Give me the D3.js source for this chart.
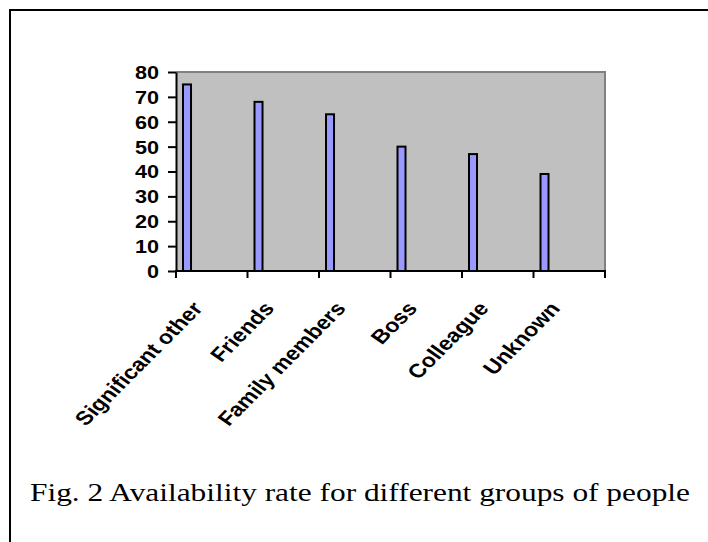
<!DOCTYPE html>
<html>
<head>
<meta charset="utf-8">
<script src="https://cdn.jsdelivr.net/npm/d3@7"></script>
<style>
  html, body { margin: 0; padding: 0; background: #fff; }
  svg { display: block; }
</style>
</head>
<body>
<svg id="chart" width="708" height="542"></svg>
<script>
const categories = ["Significant other", "Friends", "Family members", "Boss", "Colleague", "Unknown"];
const values = [75, 68, 63, 50, 47, 39];
const yTicks = [0, 10, 20, 30, 40, 50, 60, 70, 80];
const caption = "Fig. 2 Availability rate for different groups of people";

const svg = d3.select("#chart");
const SX = 1.2;   // horizontal stretch of the original picture (axis text)
const SXC = 1.255; // caption stretch

// outer frame
svg.append("rect")
  .attr("x", 10).attr("y", 10)
  .attr("width", 800).attr("height", 600)
  .attr("fill", "none").attr("stroke", "#000").attr("stroke-width", 2);

const plot = { left: 176, right: 605, top: 72, bottom: 271 };

const x = d3.scaleBand().domain(categories)
  .range([plot.left, plot.right]).paddingInner(0).paddingOuter(0);
const y = d3.scaleLinear().domain([0, 80]).range([plot.bottom, plot.top]);

// plot background
svg.append("rect")
  .attr("x", plot.left).attr("y", plot.top)
  .attr("width", plot.right - plot.left).attr("height", plot.bottom - plot.top)
  .attr("fill", "#c0c0c0");
// grey top/right border
svg.append("path")
  .attr("d", `M${plot.left},${plot.top}H${plot.right}V${plot.bottom}`)
  .attr("fill", "none").attr("stroke", "#808080").attr("stroke-width", 2);

// bars
const bw = x.bandwidth();
svg.append("g").selectAll("rect").data(values).join("rect")
  .attr("x", (d, i) => x(categories[i]) + bw * 0.098)
  .attr("width", bw * 0.112)
  .attr("y", d => y(d))
  .attr("height", d => y(0) - y(d))
  .attr("fill", "#9999ff")
  .attr("stroke", "#000")
  .attr("stroke-width", 2);

// y axis
const yAxis = svg.append("g")
  .attr("transform", `translate(${plot.left},0)`)
  .call(d3.axisLeft(y).tickValues(yTicks).tickSize(8).tickSizeOuter(0));
yAxis.select(".domain").attr("stroke", "#000").attr("stroke-width", 2);
yAxis.selectAll(".tick line").attr("stroke", "#000").attr("stroke-width", 2);
yAxis.selectAll(".tick text")
  .attr("x", 0).attr("dy", "0.36em")
  .attr("transform", `translate(-17,0) scale(${SX},1)`)
  .attr("fill", "#000")
  .style("font-family", "'Liberation Sans', Arial, sans-serif")
  .style("font-weight", "bold")
  .style("font-size", "18px");

// x axis line + ticks at band boundaries
const xg = svg.append("g");
xg.append("line")
  .attr("x1", plot.left - 1).attr("x2", plot.right + 1)
  .attr("y1", plot.bottom).attr("y2", plot.bottom)
  .attr("stroke", "#000").attr("stroke-width", 2);
const boundaries = categories.map(c => x(c)).concat([plot.right]);
xg.selectAll("line.tk").data(boundaries).join("line")
  .attr("class", "tk")
  .attr("x1", d => d).attr("x2", d => d)
  .attr("y1", plot.bottom).attr("y2", plot.bottom + 7)
  .attr("stroke", "#000").attr("stroke-width", 2);

// rotated category labels
const theta = Math.atan(SX) * 180 / Math.PI;
xg.selectAll("g.lbl").data(categories).join("g")
  .attr("class", "lbl")
  .attr("transform", d => `translate(${x(d) + bw / 2 - 8},${plot.bottom + 38})`)
  .append("text")
  .attr("text-anchor", "end")
  .attr("transform", `scale(${SX},1) rotate(${-theta})`)
  .style("font-family", "'Liberation Sans', Arial, sans-serif")
  .style("font-weight", "bold")
  .style("font-size", "19.5px")
  .text(d => d);

// caption
svg.append("text")
  .attr("transform", `translate(30,501) scale(${SXC},1)`)
  .style("font-family", "'Liberation Serif', 'Times New Roman', serif")
  .style("font-size", "25px")
  .attr("fill", "#000")
  .text(caption);
</script>
</body>
</html>
